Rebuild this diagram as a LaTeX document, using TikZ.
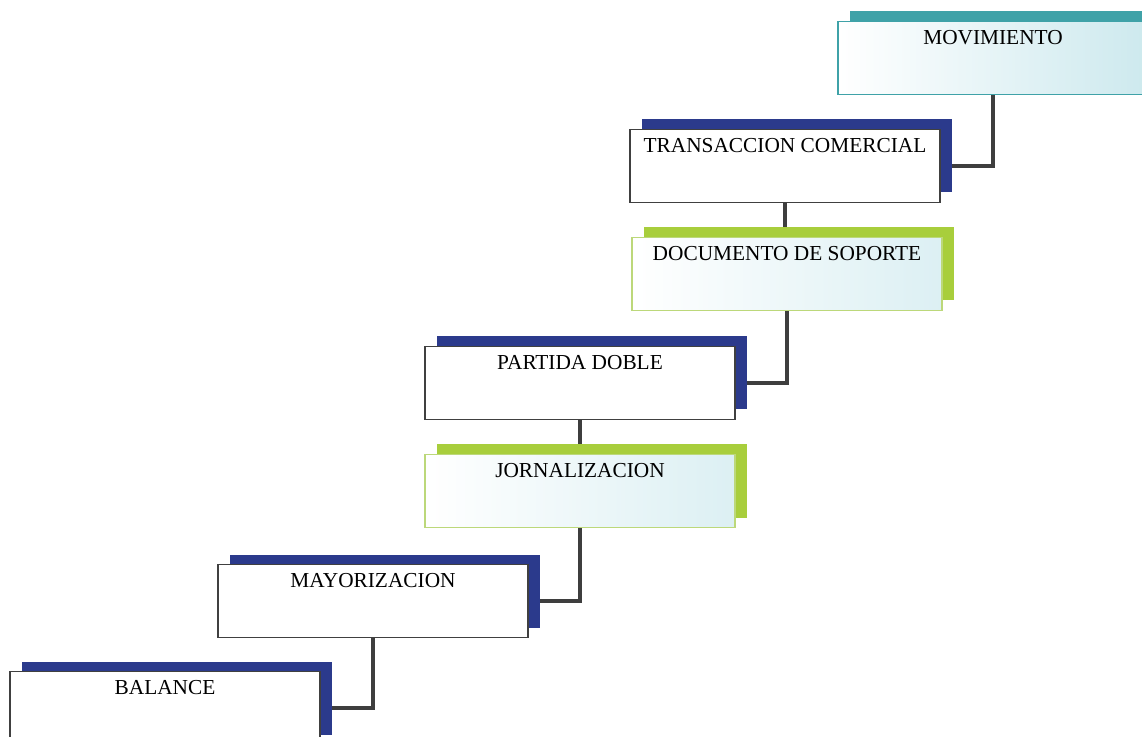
\documentclass[tikz,border=0pt]{standalone}
\usepackage{fontspec}
\setmainfont{Liberation Serif}
\usetikzlibrary{shadows,backgrounds}
\definecolor{navyshade}{HTML}{2B3A8C}
\definecolor{greenshade}{HTML}{A8CE3C}
\definecolor{greenline}{HTML}{BCD87A}
\definecolor{tealshade}{HTML}{3FA2A8}
\definecolor{paleblue}{HTML}{CDE9EE}
\definecolor{connector}{HTML}{3E3E3E}
\tikzset{
  box/.style={rectangle, minimum width=232.5pt, minimum height=54.75pt,
    inner xsep=0pt, inner ysep=0pt, text height=17pt, text depth=37pt,
    font=\fontsize{16}{19}\selectfont, line width=0.8pt},
  bluebox/.style={box, draw=black!75, fill=white,
    drop shadow={shadow xshift=9pt, shadow yshift=7.5pt, fill=navyshade, opacity=1}},
  greenbox/.style={box, draw=greenline, left color=white, right color=paleblue!70,
    drop shadow={shadow xshift=9pt, shadow yshift=7.5pt, fill=greenshade, opacity=1}},
  tealbox/.style={box, draw=tealshade, left color=white, right color=paleblue,
    drop shadow={shadow xshift=9pt, shadow yshift=7.5pt, fill=tealshade, opacity=1}},
  conn/.style={draw=connector, line width=3pt}
}
\begin{document}
\begin{tikzpicture}[x=0.75pt,y=-0.75pt]
\useasboundingbox (0,0) rectangle (1142,737);
\node[tealbox]  (mov) at (993,58)  {MOVIMIENTO};
\node[bluebox]  (tra) at (785,166) {TRANSACCION COMERCIAL};
\node[greenbox] (doc) at (787,274) {DOCUMENTO DE SOPORTE};
\node[bluebox]  (par) at (580,383) {PARTIDA DOBLE};
\node[greenbox] (jor) at (580,491) {JORNALIZACION};
\node[bluebox]  (may) at (373,601) {MAYORIZACION};
\node[bluebox]  (bal) at (165,708) {BALANCE};
\begin{scope}[on background layer]
\fill[white] (0,0) rectangle (1142,737);
\draw[conn] (mov.south) |- (tra.east);
\draw[conn] (tra.south) -- (tra.south |- doc.north);
\draw[conn] (doc.south) |- (par.east);
\draw[conn] (par.south) -- (par.south |- jor.north);
\draw[conn] (jor.south) |- (may.east);
\draw[conn] (may.south) |- (bal.east);
\end{scope}
\end{tikzpicture}
\end{document}
